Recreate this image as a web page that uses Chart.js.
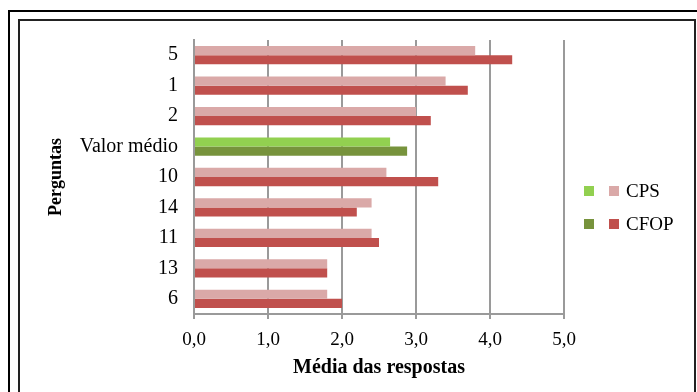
<!DOCTYPE html>
<html>
<head>
<meta charset="utf-8">
<script src="https://cdn.jsdelivr.net/npm/chart.js@4/dist/chart.umd.min.js"></script>
<style>
  html, body { margin: 0; padding: 0; background: #fff; }
  #wrap { width: 697px; height: 392px; }
</style>
</head>
<body>
<div id="wrap"><canvas id="mediaChart" width="697" height="392"></canvas></div>
<script>
// data
const perguntas = ['5', '1', '2', 'Valor médio', '10', '14', '11', '13', '6'];
const cps = [3.8, 3.4, 3.0, 2.65, 2.6, 2.4, 2.4, 1.8, 1.8];
const cfop = [4.3, 3.7, 3.2, 2.88, 3.3, 2.2, 2.5, 1.8, 2.0];
const xTicks = [0, 1, 2, 3, 4, 5];

const serif = "'Liberation Serif', 'Times New Roman', serif";

const cpsColor = '#DAA9A8', cfopColor = '#C0504D';
const cpsGreen = '#92D050', cfopGreen = '#77933C';

function colorsFor(main, avg) {
    return perguntas.map(p => p === 'Valor médio' ? avg : main);
}

// double frame around the chart
const framePlugin = {
    id: 'frame',
    beforeDraw(chart) {
        const c = chart.ctx;
        c.save();
        c.strokeStyle = '#000';
        c.lineWidth = 2;
        c.strokeRect(9, 11, 700, 400);
        c.strokeStyle = '#222';
        c.strokeRect(19, 20, 676, 390);
        c.restore();
    }
};

// legend with two swatches per row (green + red)
const legendPlugin = {
    id: 'twoSwatchLegend',
    afterDraw(chart) {
        const c = chart.ctx;
        const rows = [
            { label: 'CPS', a: cpsGreen, b: cpsColor, y: 191 },
            { label: 'CFOP', a: cfopGreen, b: cfopColor, y: 224 }
        ];
        c.save();
        c.font = '19px ' + serif;
        c.textBaseline = 'middle';
        rows.forEach(r => {
            c.fillStyle = r.a;
            c.fillRect(584, r.y - 5, 10, 10);
            c.fillStyle = r.b;
            c.fillRect(609, r.y - 5, 10, 10);
            c.fillStyle = '#000';
            c.fillText(r.label, 626, r.y + 1);
        });
        c.restore();
    }
};

const ctx = document.getElementById('mediaChart').getContext('2d');
const mediaChart = new Chart(ctx, {
    type: 'bar',
    data: {
        labels: perguntas,
        datasets: [{
            label: 'CPS',
            data: cps,
            backgroundColor: colorsFor(cpsColor, cpsGreen),
            categoryPercentage: 0.6,
            barPercentage: 1.0
        }, {
            label: 'CFOP',
            data: cfop,
            backgroundColor: colorsFor(cfopColor, cfopGreen),
            categoryPercentage: 0.6,
            barPercentage: 1.0
        }]
    },
    options: {
        indexAxis: 'y',
        responsive: false,
        animation: false,
        layout: {
            padding: { left: 46, top: 40, right: 133, bottom: 12 }
        },
        plugins: {
            legend: { display: false },
            tooltip: { enabled: false }
        },
        scales: {
            x: {
                min: 0,
                max: 5,
                afterBuildTicks(scale) {
                    scale.ticks = xTicks.map(v => ({ value: v }));
                },
                afterFit(scale) { scale.height = 66; },
                grid: {
                    color: '#9a9a9a',
                    lineWidth: 2,
                    tickLength: 5
                },
                border: { color: '#9a9a9a', width: 2 },
                ticks: {
                    color: '#000',
                    padding: 10,
                    font: { family: serif, size: 19 },
                    callback: v => Number(v).toFixed(1).replace('.', ',')
                },
                title: {
                    display: true,
                    text: 'Média das respostas',
                    color: '#000',
                    padding: { top: 4, bottom: 0 },
                    font: { family: serif, size: 20, weight: 'bold' }
                }
            },
            y: {
                afterFit(scale) { scale.width = 148; },
                grid: { display: false, drawTicks: false },
                border: { color: '#9a9a9a', width: 2 },
                ticks: {
                    color: '#000',
                    padding: 16,
                    font: { family: serif, size: 20 }
                },
                title: {
                    display: true,
                    text: 'Perguntas',
                    color: '#000',
                    padding: 0,
                    font: { family: serif, size: 18, weight: 'bold' }
                }
            }
        }
    },
    plugins: [framePlugin, legendPlugin]
});
</script>
</body>
</html>
